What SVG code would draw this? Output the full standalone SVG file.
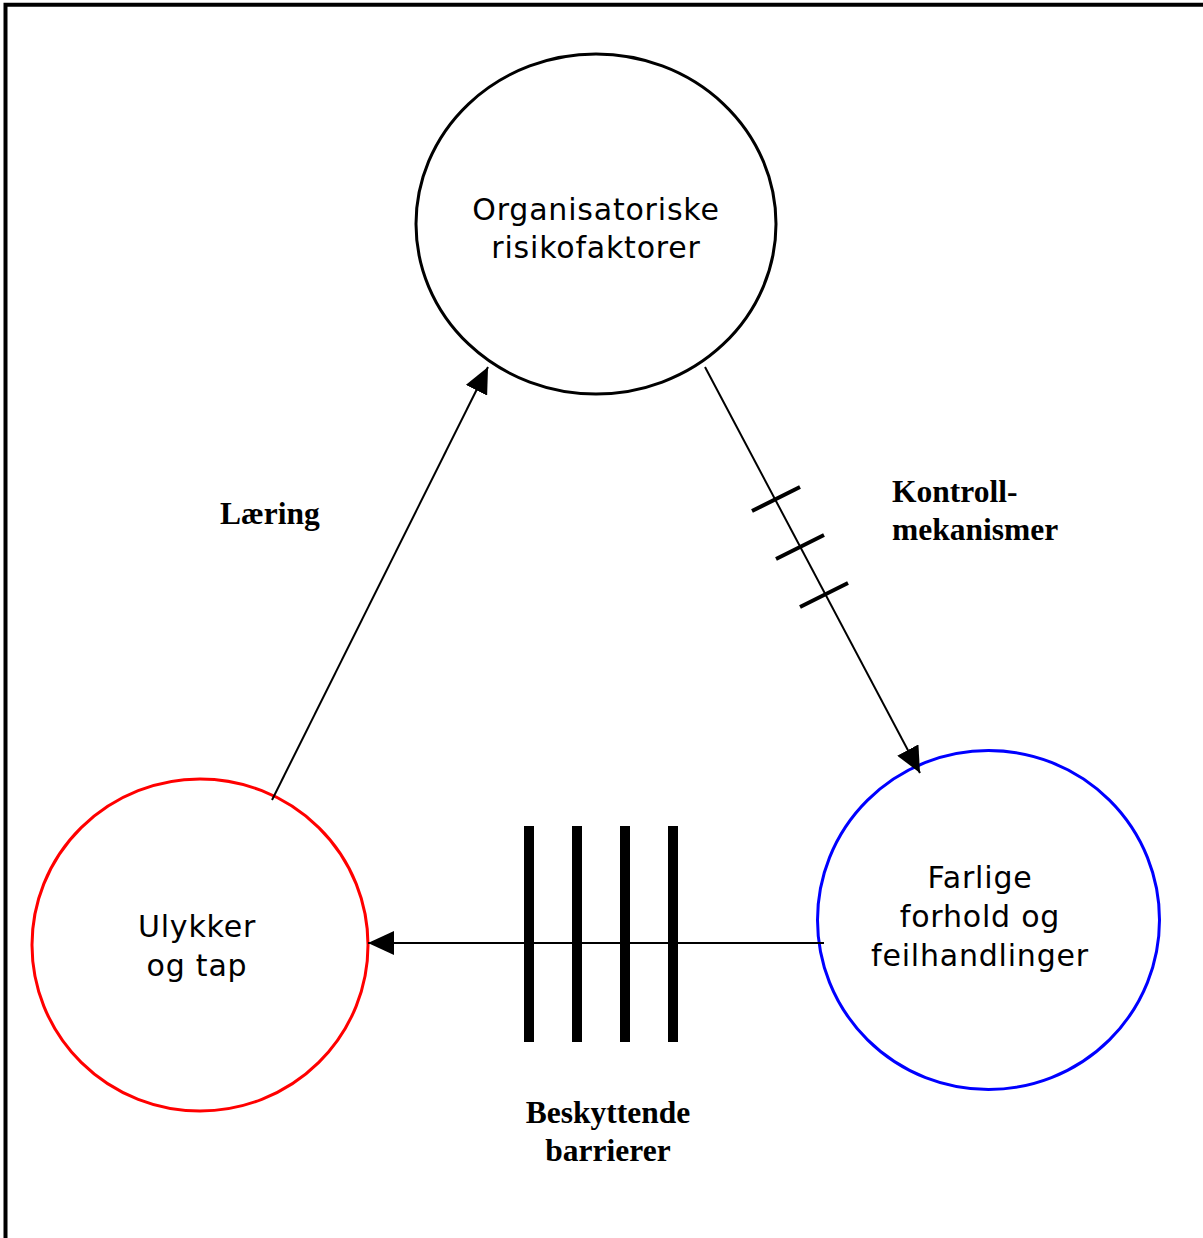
<svg xmlns="http://www.w3.org/2000/svg" width="1203" height="1238" viewBox="0 0 1203 1238">
  <style>
    .frame { fill: none; stroke: #000; stroke-width: 4; }
    .node { fill: none; stroke-width: 3; }
    .label { font-family: "DejaVu Sans", Verdana, sans-serif; font-size: 30px; letter-spacing: 0.8px; fill: #000; text-anchor: middle; }
    .edge-label { font-family: "Liberation Serif", "Times New Roman", serif; font-weight: bold; font-size: 31.5px; fill: #000; }
    .link { fill: none; stroke: #000; stroke-width: 2; }
    .tick { stroke: #000; stroke-width: 4; }
    .bar { fill: #000; }
  </style>
  <defs>
    <marker id="head" viewBox="0 0 26 24" refX="26" refY="12" markerWidth="26" markerHeight="24" markerUnits="userSpaceOnUse" orient="auto">
      <path d="M0,0 L26,12 L0,24 z" fill="#000"/>
    </marker>
  </defs>

  <rect width="1203" height="1238" fill="#fff"/>
  <!-- open frame: left and top edges only -->
  <path class="frame" d="M5.5,1238 V4.7 H1203"/>

  <g id="node-organisatoriske">
    <ellipse class="node" cx="596" cy="224" rx="180" ry="170" stroke="#000"/>
    <text class="label" x="596" y="220">Organisatoriske</text>
    <text class="label" x="596" y="258">risikofaktorer</text>
  </g>

  <g id="node-farlige">
    <ellipse class="node" cx="988.5" cy="920" rx="171" ry="169.5" stroke="#0000ff"/>
    <text class="label" x="980" y="888">Farlige</text>
    <text class="label" x="980" y="927">forhold og</text>
    <text class="label" x="980" y="966">feilhandlinger</text>
  </g>

  <g id="node-ulykker">
    <ellipse class="node" cx="200" cy="945" rx="168" ry="166" stroke="#ff0000"/>
    <text class="label" x="197" y="937">Ulykker</text>
    <text class="label" x="197" y="976">og tap</text>
  </g>

  <g id="connectors">
    <!-- Læring: accidents back to organisational factors -->
    <line class="link" x1="272" y1="800" x2="488" y2="367" marker-end="url(#head)"/>
    <!-- Kontrollmekanismer: organisational factors to hazards -->
    <line class="link" x1="705" y1="367" x2="920" y2="773" marker-end="url(#head)"/>
    <line class="tick" x1="752" y1="511" x2="800" y2="487"/>
    <line class="tick" x1="776" y1="559" x2="824" y2="535"/>
    <line class="tick" x1="800" y1="607" x2="848" y2="583"/>
    <!-- Beskyttende barrierer: hazards to accidents -->
    <line class="link" x1="824" y1="943" x2="368" y2="943" marker-end="url(#head)"/>
    <rect class="bar" x="524" y="826" width="10" height="216"/>
    <rect class="bar" x="572" y="826" width="10" height="216"/>
    <rect class="bar" x="620" y="826" width="10" height="216"/>
    <rect class="bar" x="668" y="826" width="10" height="216"/>
    <text class="edge-label" x="220" y="524">Læring</text>
    <text class="edge-label" x="892" y="502">Kontroll-</text>
    <text class="edge-label" x="892" y="540">mekanismer</text>
    <text class="edge-label" x="608" y="1123" text-anchor="middle">Beskyttende</text>
    <text class="edge-label" x="608" y="1161" text-anchor="middle">barrierer</text>
  </g>
</svg>
